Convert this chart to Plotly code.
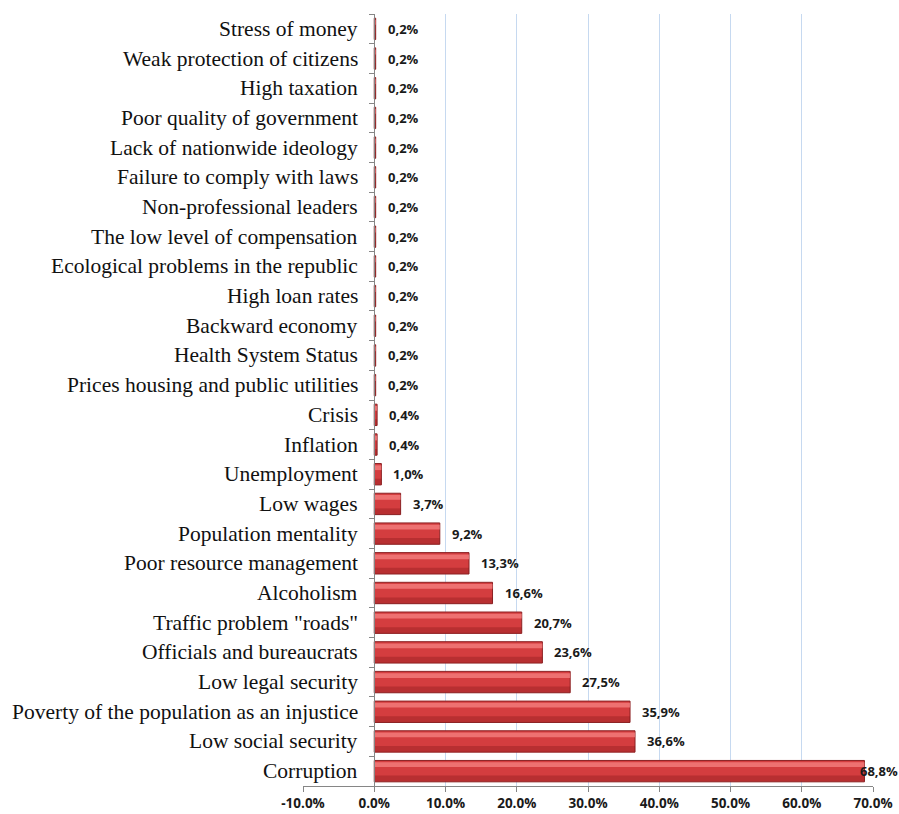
import plotly.graph_objects as go

categories = [
    "Corruption", "Low social security", "Poverty of the population as an injustice",
    "Low legal security", "Officials and bureaucrats", 'Traffic problem "roads"',
    "Alcoholism", "Poor resource management", "Population mentality", "Low wages",
    "Unemployment", "Inflation", "Crisis", "Prices housing and public utilities",
    "Health System Status", "Backward economy", "High loan rates",
    "Ecological problems in the republic", "The low level of compensation",
    "Non-professional leaders", "Failure to comply with laws",
    "Lack of nationwide ideology", "Poor quality of government", "High taxation",
    "Weak protection of citizens", "Stress of money",
]
values = [68.8, 36.6, 35.9, 27.5, 23.6, 20.7, 16.6, 13.3, 9.2, 3.7,
          1.0, 0.4, 0.4, 0.2, 0.2, 0.2, 0.2, 0.2, 0.2, 0.2, 0.2, 0.2, 0.2, 0.2, 0.2, 0.2]
x_ticks = [-10, 0, 10, 20, 30, 40, 50, 60, 70]

labels = [f"{v:.1f}".replace(".", ",") + "%" for v in values]

fig = go.Figure()
fig.add_trace(go.Bar(
    y=categories, x=values, orientation="h", width=0.72,
    marker=dict(color="#d43d3f", line=dict(color="#8c2224", width=1)),
    hoverinfo="skip",
))
fig.add_trace(go.Bar(
    y=categories, x=values, orientation="h", width=0.16, offset=0.14,
    marker=dict(color="rgba(250,135,135,0.7)", line=dict(width=0)),
    hoverinfo="skip",
))
fig.add_trace(go.Bar(
    y=categories, x=values, orientation="h", width=0.2, offset=-0.35,
    marker=dict(color="rgba(120,15,15,0.3)", line=dict(width=0)),
    hoverinfo="skip",
))

annotations = []
for c, v, t in zip(categories, values, labels):
    annotations.append(dict(
        x=0, y=c, xref="x", yref="y", text=c, showarrow=False,
        xanchor="right", yanchor="middle", xshift=-15,
        font=dict(family="Liberation Serif", size=21.5, color="#111111"),
        bgcolor="white", borderpad=0,
    ))
    annotations.append(dict(
        x=v, y=c, xref="x", yref="y", text=t, showarrow=False,
        xanchor="left", yanchor="middle", xshift=(-6 if v > 60 else 10),
        font=dict(family="Open Sans", size=13, color="#1a1a1a", weight="bold"),
    ))

fig.update_layout(
    width=899, height=814,
    margin=dict(l=303, r=26, t=14, b=28),
    paper_bgcolor="white", plot_bgcolor="white",
    barmode="overlay", showlegend=False,
    annotations=annotations,
    xaxis=dict(
        range=[-10, 70], tickvals=x_ticks,
        ticktext=[f"{t:.1f}%" for t in x_ticks],
        showgrid=True, gridcolor="#c6d9f0", gridwidth=1,
        zeroline=False, showline=True, linecolor="#868686", linewidth=1,
        ticks="outside", ticklen=5, tickcolor="#868686",
        tickfont=dict(family="Open Sans", size=13.5, color="#1a1a1a", weight="bold"),
        fixedrange=True, automargin=False,
    ),
    yaxis=dict(
        type="category", categoryorder="array", categoryarray=categories,
        anchor="free", position=0.125,
        showline=True, linecolor="#868686", linewidth=1,
        ticks="outside", ticklen=5, tickcolor="#868686", tickson="boundaries",
        showticklabels=False, showgrid=False, range=[-0.5, 25.5],
        fixedrange=True, automargin=False,
    ),
)

fig.write_html(
    "out.html",
    config={"displayModeBar": False},
    post_script="document.body.style.margin='0';document.body.style.overflow='hidden';",
)
